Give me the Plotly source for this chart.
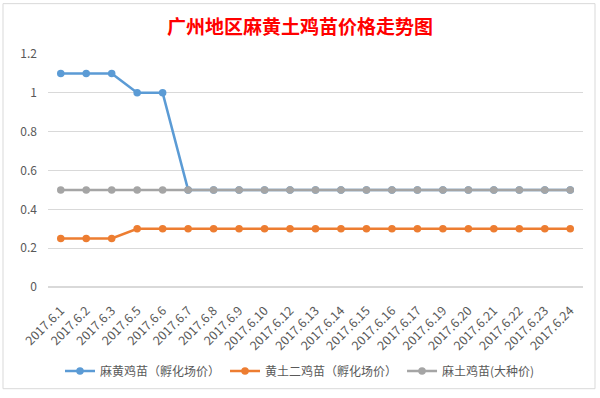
import plotly.graph_objects as go

categories = ["2017.6.1", "2017.6.2", "2017.6.3", "2017.6.5", "2017.6.6", "2017.6.7",
              "2017.6.8", "2017.6.9", "2017.6.10", "2017.6.12", "2017.6.13", "2017.6.14",
              "2017.6.15", "2017.6.16", "2017.6.17", "2017.6.19", "2017.6.20", "2017.6.21",
              "2017.6.22", "2017.6.23", "2017.6.24"]
mahuang = [1.1, 1.1, 1.1, 1.0, 1.0, 0.5, 0.5, 0.5, 0.5, 0.5, 0.5, 0.5,
           0.5, 0.5, 0.5, 0.5, 0.5, 0.5, 0.5, 0.5, 0.5]
huangtu = [0.25, 0.25, 0.25, 0.3, 0.3, 0.3, 0.3, 0.3, 0.3, 0.3, 0.3, 0.3,
           0.3, 0.3, 0.3, 0.3, 0.3, 0.3, 0.3, 0.3, 0.3]
matu = [0.5] * 21
series_names = ["麻黄鸡苗（孵化场价）", "黄土二鸡苗（孵化场价）", "麻土鸡苗(大种价)"]
colors = ["#5B9BD5", "#ED7D31", "#A5A5A5"]

font_family = "Noto Sans CJK SC, Microsoft YaHei, sans-serif"

fig = go.Figure()
for name, vals, col in zip(series_names, [mahuang, huangtu, matu], colors):
    fig.add_trace(go.Scatter(
        x=categories, y=vals, name=name, mode="lines+markers",
        line=dict(color=col, width=2.5),
        marker=dict(color=col, size=7.5),
    ))

L, R, T, B = 48, 583, 54, 290
W, H = 600, 398
pw, ph = R - L, B - T

fig.update_layout(
    width=W, height=H,
    paper_bgcolor="white", plot_bgcolor="white",
    margin=dict(l=L, r=W - R, t=T, b=H - B),
    title=dict(text="<b>广州地区麻黄土鸡苗价格走势图</b>", x=0.5, xanchor="center",
               y=1 - 27 / H, yanchor="middle",
               font=dict(family=font_family, size=19, color="#FF0000")),
    font=dict(family=font_family, color="#595959", size=12),
    showlegend=True,
    legend=dict(orientation="h", x=(300 - L) / pw, xanchor="center",
                y=-(375 - B) / ph, yanchor="middle",
                font=dict(size=12, color="#595959")),
    xaxis=dict(type="category", tickangle=-45, showgrid=False, showline=False,
               ticks="", automargin=False, range=[-0.5, 20.5], ticklabelstandoff=13,
               tickfont=dict(size=12.5, color="#595959")),
    yaxis=dict(range=[0, 1.2], dtick=0.2, showgrid=True, gridcolor="#D9D9D9",
               gridwidth=1, zeroline=True, zerolinecolor="#D9D9D9", showline=False,
               ticks="", automargin=False, ticklabelstandoff=10,
               tickfont=dict(size=12, color="#595959"),
               tickformat="~g"),
    shapes=[dict(type="rect", xref="paper", yref="paper",
                 x0=(3 - L) / pw, x1=(595 - L) / pw, y0=-(393 - B) / ph, y1=(B - 3) / ph,
                 line=dict(color="#D9D9D9", width=1))],
)

fig.write_html("out.html", config={"displayModeBar": False},
               post_script="document.body.style.margin='0';")
